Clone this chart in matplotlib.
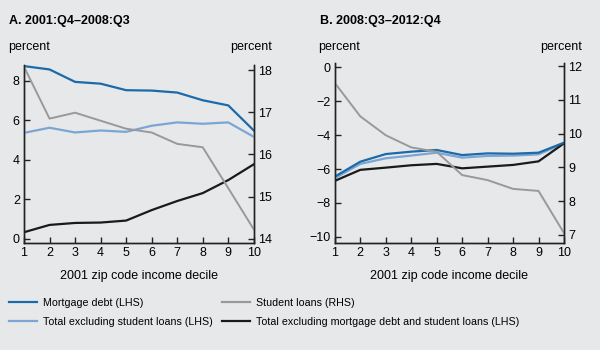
import matplotlib
matplotlib.use("Agg")
import matplotlib.pyplot as plt
from matplotlib.lines import Line2D

plt.rcParams['font.family'] = ['Liberation Sans', 'DejaVu Sans']
plt.rcParams['font.size'] = 9

deciles = [1, 2, 3, 4, 5, 6, 7, 8, 9, 10]

# panel A: 2001:Q4-2008:Q3
a_mortgage = [8.75, 8.58, 7.95, 7.86, 7.53, 7.51, 7.41, 7.02, 6.76, 5.49]
a_total_ex_student = [5.37, 5.63, 5.39, 5.49, 5.42, 5.73, 5.90, 5.83, 5.90, 5.17]
a_total_ex_mort_student = [0.34, 0.71, 0.81, 0.83, 0.93, 1.46, 1.92, 2.32, 2.98, 3.78]
a_student = [18.08, 16.85, 16.99, 16.80, 16.61, 16.52, 16.25, 16.17, 15.20, 14.22]

# panel B: 2008:Q3-2012:Q4
b_mortgage = [-6.45, -5.57, -5.12, -4.98, -4.88, -5.18, -5.08, -5.10, -5.04, -4.45]
b_total_ex_student = [-6.54, -5.70, -5.37, -5.21, -5.04, -5.33, -5.23, -5.21, -5.14, -4.49]
b_total_ex_mort_student = [-6.70, -6.05, -5.92, -5.78, -5.70, -5.96, -5.86, -5.76, -5.55, -4.49]
b_student = [11.50, 10.51, 9.95, 9.59, 9.46, 8.77, 8.62, 8.36, 8.30, 7.05]

bg = "#e7e8ea"
c_mort = "#1d6aa8"
c_light = "#7ba6d4"
c_gray = "#999999"
c_black = "#1a1a1a"

fig = plt.figure(figsize=(6, 3.5), dpi=100, facecolor=bg)


def style(ax):
    ax.set_facecolor(bg)
    ax.spines["top"].set_visible(False)
    for s in ["left", "right", "bottom"]:
        ax.spines[s].set_color("#222222")
        ax.spines[s].set_linewidth(1.0)
    ax.tick_params(direction="in", length=4, width=1.0, color="#222222",
                   labelsize=9, pad=3)


def panel(rect, title, mort, light, black, student, ylim, yticks, ylim2, yticks2):
    ax = fig.add_axes(rect)
    ax2 = ax.twinx()
    style(ax)
    style(ax2)
    ax2.patch.set_visible(False)
    ax.plot(deciles, mort, color=c_mort, lw=1.6, zorder=4)
    ax.plot(deciles, light, color=c_light, lw=1.6, zorder=3)
    ax.plot(deciles, black, color=c_black, lw=1.6, zorder=3)
    ax2.plot(deciles, student, color=c_gray, lw=1.4)
    ax.set_xlim(1, 10)
    ax.set_xticks(deciles)
    ax.set_ylim(*ylim)
    ax.set_yticks(yticks)
    ax.set_yticklabels([str(v).replace("-", "\u2212") for v in yticks])
    ax2.set_ylim(*ylim2)
    ax2.set_yticks(yticks2)
    ax.set_xlabel("2001 zip code income decile", fontsize=9, labelpad=8)
    x0 = rect[0]
    x1 = rect[0] + rect[2]
    fig.text(x0 - 0.027, 1 - 53 / 350, "percent", ha="left", va="bottom", fontsize=9)
    fig.text(x1 + 0.03, 1 - 53 / 350, "percent", ha="right", va="bottom", fontsize=9)
    fig.text(x0 - 0.025, 1 - 27 / 350, title, ha="left", va="bottom",
             fontsize=9, fontweight="bold")
    return ax


panel([0.04, 0.306, 0.383, 0.508], "A. 2001:Q4\u20132008:Q3",
      a_mortgage, a_total_ex_student, a_total_ex_mort_student, a_student,
      (-0.2, 8.8), [0, 2, 4, 6, 8], (13.9, 18.12), [14, 15, 16, 17, 18])
panel([0.558, 0.306, 0.382, 0.514], "B. 2008:Q3\u20132012:Q4",
      b_mortgage, b_total_ex_student, b_total_ex_mort_student, b_student,
      (-10.35, 0.24), [0, -2, -4, -6, -8, -10], (6.76, 12.09), [7, 8, 9, 10, 11, 12])

handles = [Line2D([], [], color=c_mort, lw=1.6),
           Line2D([], [], color=c_light, lw=1.6),
           Line2D([], [], color=c_gray, lw=1.6),
           Line2D([], [], color=c_black, lw=1.6)]
labels = ["Mortgage debt (LHS)", "Total excluding student loans (LHS)",
          "Student loans (RHS)", "Total excluding mortgage debt and student loans (LHS)"]
fig.legend(handles, labels, ncol=2, loc="upper left", bbox_to_anchor=(0.003, 0.170),
           frameon=False, fontsize=7.7, handlelength=2.6, handletextpad=0.55,
           columnspacing=0.9, labelspacing=0.85, borderpad=0.2)

fig.savefig("out.png", dpi=100, facecolor=bg)
